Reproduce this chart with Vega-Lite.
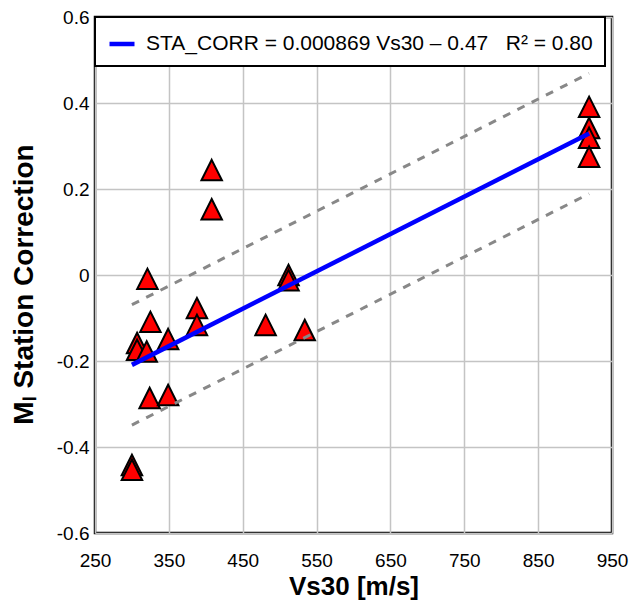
{
  "$schema": "https://vega.github.io/schema/vega-lite/v6.json",
  "width": 517,
  "height": 516,
  "autosize": {"type": "none"},
  "padding": {"left": 95, "top": 17, "right": 20, "bottom": 69},
  "background": "white",
  "config": {
    "font": "Liberation Sans",
    "view": {"stroke": "black", "strokeWidth": 2.5},
    "axis": {
      "grid": true,
      "gridColor": "#c4c4c4",
      "gridWidth": 1.5,
      "domain": false,
      "ticks": false,
      "labelFlush": false,
      "labelOverlap": false,
      "labelFont": "Liberation Sans",
      "labelFontSize": 19,
      "labelColor": "black",
      "titleFont": "Liberation Sans",
      "titleFontSize": 26,
      "titleFontWeight": "bold",
      "titleColor": "black"
    },
    "legend": {
      "orient": "none",
      "legendX": 0,
      "legendY": 0,
      "strokeColor": "black",
      "strokeWidth": 2,
      "fillColor": "white",
      "padding": 12,
      "labelFont": "Liberation Sans",
      "labelFontSize": 21,
      "labelColor": "black",
      "labelOffset": 9,
      "labelLimit": 600,
      "symbolType": "stroke",
      "symbolSize": 625,
      "symbolStrokeWidth": 4.5
    }
  },
  "layer": [
    {
      "data": {"values": [
        {"vs30": 408, "corr": 0.244},
        {"vs30": 408, "corr": 0.153},
        {"vs30": 321, "corr": -0.009},
        {"vs30": 325, "corr": -0.109},
        {"vs30": 388, "corr": -0.077},
        {"vs30": 388, "corr": -0.116},
        {"vs30": 349, "corr": -0.149},
        {"vs30": 307, "corr": -0.158},
        {"vs30": 307, "corr": -0.174},
        {"vs30": 320, "corr": -0.178},
        {"vs30": 324, "corr": -0.286},
        {"vs30": 349, "corr": -0.279},
        {"vs30": 300, "corr": -0.442},
        {"vs30": 300, "corr": -0.453},
        {"vs30": 512, "corr": 0.0},
        {"vs30": 512, "corr": -0.012},
        {"vs30": 481, "corr": -0.116},
        {"vs30": 534, "corr": -0.128},
        {"vs30": 919, "corr": 0.391},
        {"vs30": 919, "corr": 0.342},
        {"vs30": 919, "corr": 0.319},
        {"vs30": 919, "corr": 0.275}
      ]},
      "mark": {"type": "point", "shape": "M0,-1L1,1L-1,1Z", "size": 420, "filled": true, "fill": "#ff0000", "stroke": "black", "strokeWidth": 2, "strokeJoin": "miter", "opacity": 1},
      "encoding": {
        "x": {
          "field": "vs30", "type": "quantitative",
          "scale": {"domain": [250, 950], "nice": false, "zero": false},
          "axis": {"values": [250, 350, 450, 550, 650, 750, 850, 950], "title": "Vs30 [m/s]", "labelPadding": 18, "titlePadding": 3, "format": "d"}
        },
        "y": {
          "field": "corr", "type": "quantitative",
          "scale": {"domain": [-0.6, 0.6], "nice": false, "zero": false},
          "axis": {"values": [-0.6, -0.4, -0.2, 0, 0.2, 0.4, 0.6], "title": "Mₗ Station Correction", "titleFontSize": 28, "titleY": 267, "labelPadding": 6, "titlePadding": 18,
            "labelExpr": "replace(format(datum.value, '.1~f'), '\u2212', '-')"}
        }
      }
    },
    {
      "data": {"values": [
        {"vs30": 300, "corr": -0.069, "band": "upper"},
        {"vs30": 919, "corr": 0.469, "band": "upper"},
        {"vs30": 300, "corr": -0.349, "band": "lower"},
        {"vs30": 919, "corr": 0.189, "band": "lower"}
      ]},
      "mark": {"type": "line", "color": "#888888", "strokeWidth": 3, "strokeDash": [8, 8]},
      "encoding": {
        "x": {"field": "vs30", "type": "quantitative"},
        "y": {"field": "corr", "type": "quantitative"},
        "detail": {"field": "band"}
      }
    },
    {
      "data": {"values": [
        {"vs30": 300, "corr": -0.209, "series": "STA_CORR = 0.000869 Vs30 – 0.47\u00a0\u00a0\u00a0R² = 0.80"},
        {"vs30": 919, "corr": 0.329, "series": "STA_CORR = 0.000869 Vs30 – 0.47\u00a0\u00a0\u00a0R² = 0.80"}
      ]},
      "mark": {"type": "line", "strokeWidth": 4.5},
      "encoding": {
        "x": {"field": "vs30", "type": "quantitative"},
        "y": {"field": "corr", "type": "quantitative"},
        "stroke": {"field": "series", "type": "nominal", "scale": {"range": ["#0000ff"]}, "legend": {"title": null}}
      }
    }
  ]
}
